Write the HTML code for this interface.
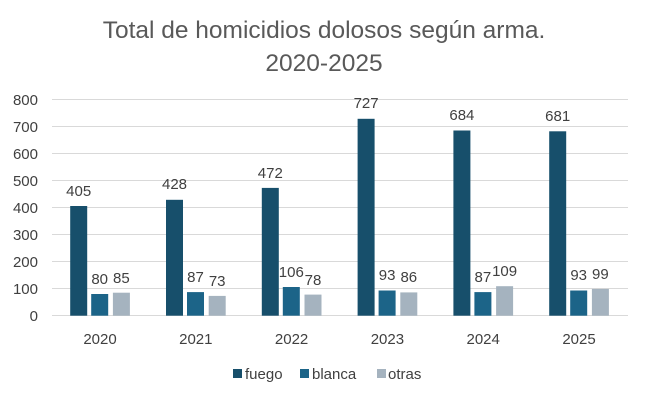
<!DOCTYPE html>
<html><head><meta charset="utf-8"><style>body{margin:0;background:#fff}svg{display:block}text{font-family:"Liberation Sans",sans-serif}</style></head><body>
<svg width="650" height="400" xmlns="http://www.w3.org/2000/svg">
<rect width="650" height="400" fill="#fff"/>
<text x="324" y="38" font-size="24.5" fill="#595959" text-anchor="middle">Total de homicidios dolosos según arma.</text>
<text x="324" y="71" font-size="24.5" fill="#595959" text-anchor="middle">2020-2025</text>
<g stroke="#d9d9d9" stroke-width="1">
<line x1="52" x2="628" y1="99.5" y2="99.5"/><line x1="52" x2="628" y1="126.5" y2="126.5"/><line x1="52" x2="628" y1="153.5" y2="153.5"/><line x1="52" x2="628" y1="180.5" y2="180.5"/><line x1="52" x2="628" y1="207.5" y2="207.5"/><line x1="52" x2="628" y1="234.5" y2="234.5"/><line x1="52" x2="628" y1="261.5" y2="261.5"/><line x1="52" x2="628" y1="288.5" y2="288.5"/><line x1="52" x2="628" y1="315.5" y2="315.5"/>
</g>
<g font-size="15" fill="#404040" text-anchor="end">
<text x="38" y="105">800</text><text x="38" y="132">700</text><text x="38" y="159">600</text><text x="38" y="186">500</text><text x="38" y="213">400</text><text x="38" y="240">300</text><text x="38" y="267">200</text><text x="38" y="294">100</text><text x="38" y="321">0</text>
</g>
<g fill="#174f6b">
<rect x="70.2" y="206" width="17" height="109.7"/><rect x="166" y="199.8" width="17" height="115.9"/><rect x="261.8" y="187.9" width="17" height="127.8"/><rect x="357.6" y="118.8" width="17" height="196.9"/><rect x="453.4" y="130.5" width="17" height="185.2"/><rect x="549.2" y="131.3" width="17" height="184.4"/>
</g>
<g fill="#1c6488">
<rect x="91.2" y="294" width="17" height="21.7"/><rect x="187" y="292.1" width="17" height="23.6"/><rect x="282.8" y="287" width="17" height="28.7"/><rect x="378.6" y="290.5" width="17" height="25.2"/><rect x="474.4" y="292.1" width="17" height="23.6"/><rect x="570.2" y="290.5" width="17" height="25.2"/>
</g>
<g fill="#a5b3bf">
<rect x="112.9" y="292.7" width="17" height="23"/><rect x="208.7" y="295.9" width="17" height="19.8"/><rect x="304.5" y="294.6" width="17" height="21.1"/><rect x="400.3" y="292.4" width="17" height="23.3"/><rect x="496.1" y="286.2" width="17" height="29.5"/><rect x="591.9" y="288.9" width="17" height="26.8"/>
</g>
<g font-size="15" fill="#404040" text-anchor="middle">
<text x="78.7" y="196">405</text><text x="174.5" y="189">428</text><text x="270.3" y="178">472</text><text x="366.1" y="108">727</text><text x="461.9" y="120">684</text><text x="557.7" y="121">681</text>
<text x="99.7" y="284">80</text><text x="195.5" y="282">87</text><text x="291.3" y="277">106</text><text x="387.1" y="280">93</text><text x="482.9" y="282">87</text><text x="578.7" y="280">93</text>
<text x="121.4" y="283">85</text><text x="217.2" y="286">73</text><text x="313" y="285">78</text><text x="408.8" y="282">86</text><text x="504.6" y="276">109</text><text x="600.4" y="279">99</text>
<text x="100" y="344">2020</text><text x="195.8" y="344">2021</text><text x="291.6" y="344">2022</text><text x="387.4" y="344">2023</text><text x="483.2" y="344">2024</text><text x="579" y="344">2025</text>
</g>
<rect x="233" y="369" width="9" height="9" fill="#174f6b"/>
<rect x="300" y="369" width="9" height="9" fill="#1c6488"/>
<rect x="377" y="369" width="9" height="9" fill="#a5b3bf"/>
<g font-size="15" fill="#404040">
<text x="245" y="379">fuego</text><text x="312" y="379">blanca</text><text x="388" y="379">otras</text>
</g>
</svg>
</body></html>
